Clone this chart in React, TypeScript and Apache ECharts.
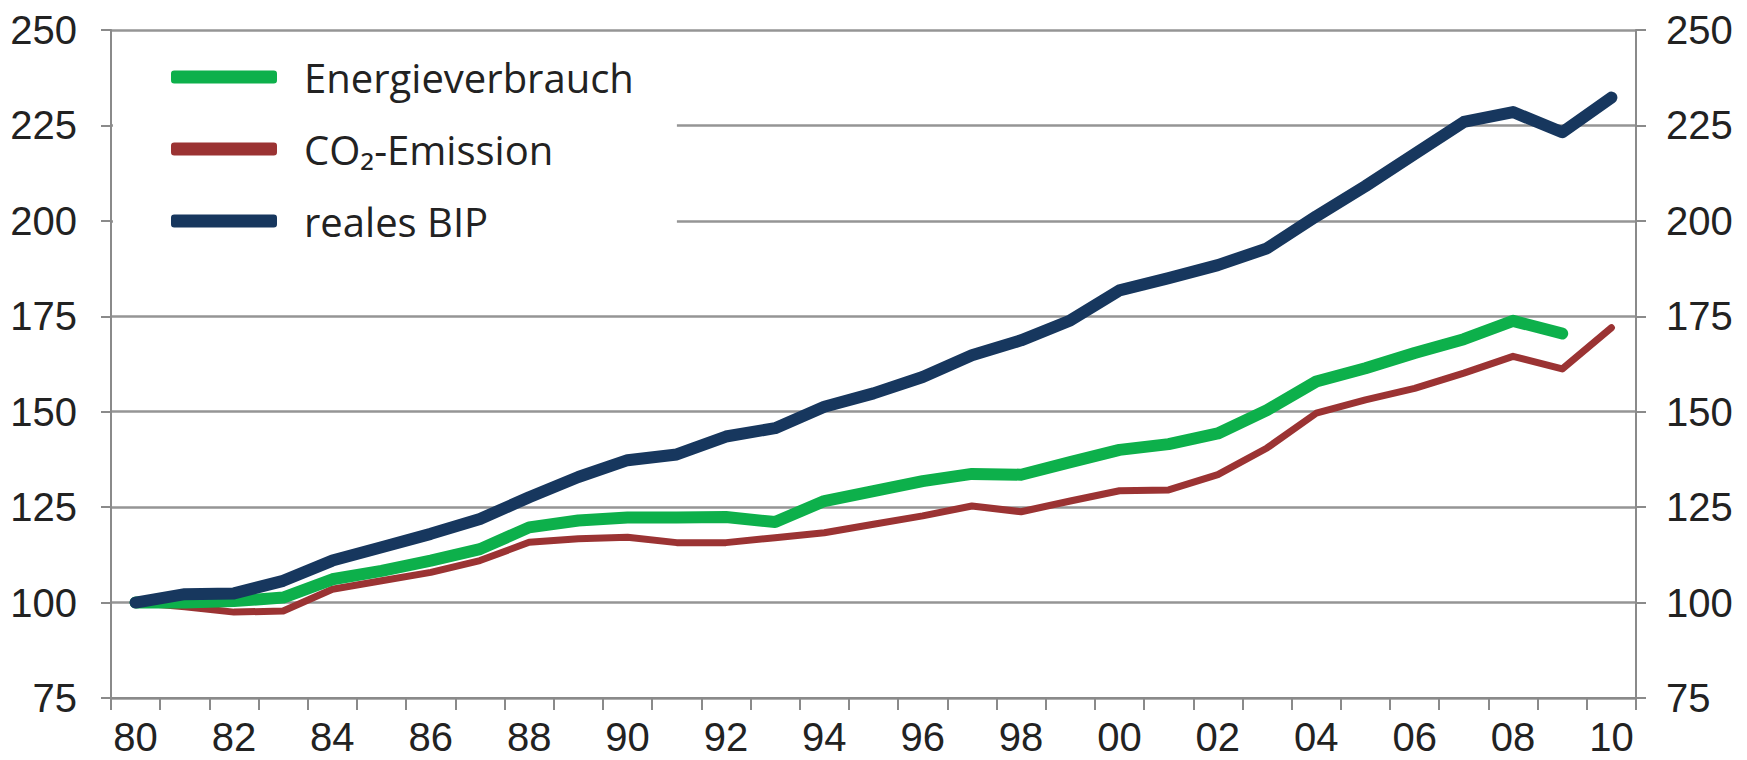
import React, { useEffect, useRef } from 'react';
import * as echarts from 'echarts';

const years = ['80', '81', '82', '83', '84', '85', '86', '87', '88', '89', '90', '91', '92', '93', '94', '95', '96', '97', '98', '99', '00', '01', '02', '03', '04', '05', '06', '07', '08', '09', '10'];

const energieverbrauch = [100, 100, 100.4, 101.3, 106.1, 108.3, 111, 114, 119.7, 121.5, 122.3, 122.3, 122.4, 121.1, 126.6, 129.2, 131.8, 133.7, 133.5, 136.8, 140, 141.5, 144.3, 150.4, 157.9, 161.4, 165.4, 169, 173.8, 170.5, null];

const co2Emission = [100, 98.9, 97.5, 97.8, 103.5, 105.7, 107.9, 111, 115.8, 116.7, 117.1, 115.7, 115.7, 117, 118.3, 120.5, 122.7, 125.3, 123.8, 126.6, 129.3, 129.5, 133.5, 140.5, 149.6, 153.1, 156.1, 160.1, 164.5, 161.2, 172.0];

const realesBIP = [100, 102.2, 102.4, 105.7, 111, 114.5, 118, 121.9, 127.6, 132.9, 137.3, 138.8, 143.5, 145.7, 151.3, 154.8, 159.1, 164.8, 168.7, 173.9, 181.8, 185.0, 188.4, 192.8, 201.2, 209.1, 217.5, 225.9, 228.5, 223.2, 232.3];

const seriesNames = ['Energieverbrauch', 'CO₂-Emission', 'reales BIP'];

export default function App() {
  const ref = useRef<HTMLDivElement>(null);
  useEffect(() => {
    if (!ref.current) return;
    const chart = echarts.init(ref.current, null, { renderer: 'svg' });
    const axisLabel = { fontFamily: 'Liberation Sans', fontSize: 40, lineHeight: 40, color: '#222' };
    const axisLine = { show: true, lineStyle: { color: '#8a8a8a', width: 2 } };
    chart.setOption({
      animation: false,
      backgroundColor: '#fff',
      grid: { left: 111, right: 111, top: 30, bottom: 62, containLabel: false },
      legend: {
        orient: 'vertical',
        left: 113,
        top: 40,
        padding: [15, 43, 16, 58],
        backgroundColor: '#fff',
        itemWidth: 106,
        itemHeight: 13,
        itemGap: 28,
        icon: 'roundRect',
        selectedMode: false,
        data: seriesNames,
        textStyle: { fontFamily: 'Open Sans', fontSize: 40, lineHeight: 44, color: '#222', padding: [0, 0, 0, 22] },
      },
      xAxis: {
        type: 'category',
        data: years,
        boundaryGap: true,
        axisLine,
        axisTick: { show: true, interval: 0, length: 12, lineStyle: { color: '#8a8a8a', width: 2 } },
        axisLabel: { ...axisLabel, interval: 1, margin: 19 },
        splitLine: { show: false },
      },
      yAxis: [
        {
          type: 'value', min: 75, max: 250, interval: 25, position: 'left',
          axisLine,
          axisTick: { show: true, length: 10, lineStyle: { color: '#8a8a8a', width: 2 } },
          axisLabel: { ...axisLabel, margin: 34 },
          splitLine: { show: true, lineStyle: { color: '#959595', width: 2.5 } },
        },
        {
          type: 'value', min: 75, max: 250, interval: 25, position: 'right',
          axisLine,
          axisTick: { show: true, length: 10, lineStyle: { color: '#8a8a8a', width: 2 } },
          axisLabel: { ...axisLabel, margin: 30 },
          splitLine: { show: false },
        },
      ],
      series: [
        {
          name: seriesNames[1], type: 'line', data: co2Emission, showSymbol: false, symbol: 'none',
          color: '#9b3333',
          lineStyle: { width: 7, color: '#9b3333', cap: 'round', join: 'round' },
        },
        {
          name: seriesNames[0], type: 'line', data: energieverbrauch, showSymbol: false, symbol: 'none',
          color: '#0db04b',
          lineStyle: { width: 12, color: '#0db04b', cap: 'round', join: 'round' },
        },
        {
          name: seriesNames[2], type: 'line', data: realesBIP, showSymbol: false, symbol: 'none',
          color: '#17375e',
          lineStyle: { width: 12, color: '#17375e', cap: 'round', join: 'round' },
        },
      ],
    });
    return () => chart.dispose();
  }, []);
  return (
    <div
      ref={ref}
      style={{ position: 'fixed', left: 0, top: 0, width: 1747, height: 760, background: '#fff' }}
    />
  );
}
